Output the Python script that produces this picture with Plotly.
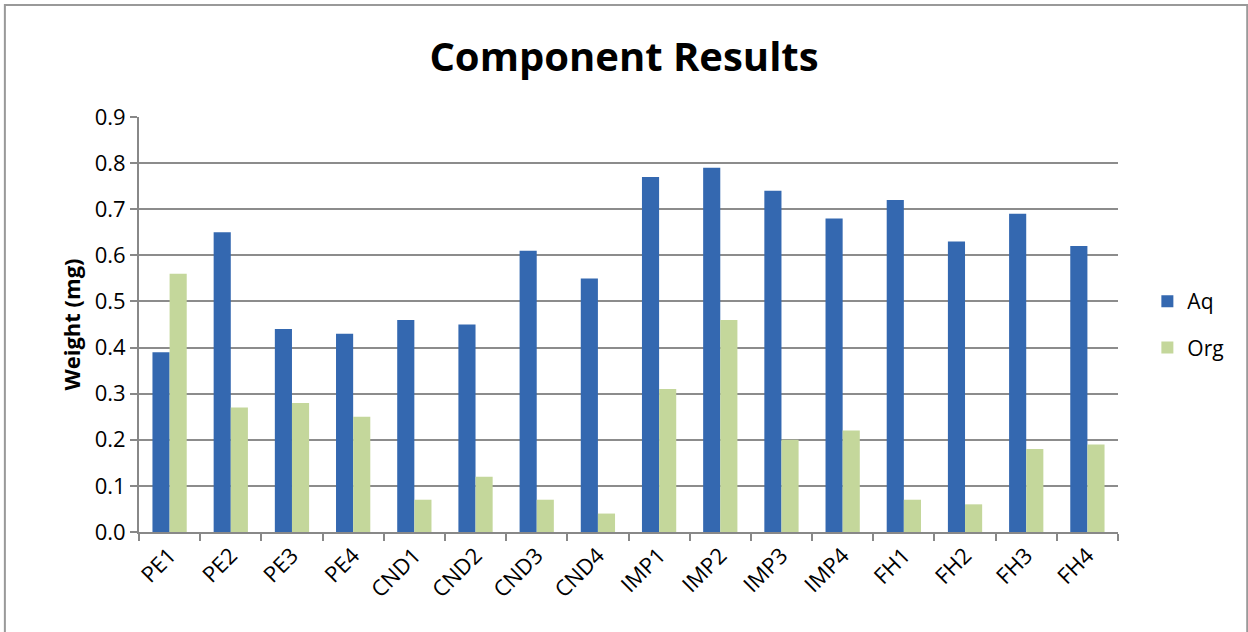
import plotly.graph_objects as go

categories = ["PE1", "PE2", "PE3", "PE4", "CND1", "CND2", "CND3", "CND4",
              "IMP1", "IMP2", "IMP3", "IMP4", "FH1", "FH2", "FH3", "FH4"]
aq_values = [0.39, 0.65, 0.44, 0.43, 0.46, 0.45, 0.61, 0.55,
             0.77, 0.79, 0.74, 0.68, 0.72, 0.63, 0.69, 0.62]
org_values = [0.56, 0.27, 0.28, 0.25, 0.07, 0.12, 0.07, 0.04,
              0.31, 0.46, 0.20, 0.22, 0.07, 0.06, 0.18, 0.19]
y_ticks = [0.0, 0.1, 0.2, 0.3, 0.4, 0.5, 0.6, 0.7, 0.8, 0.9]
y_tick_labels = ["0.0", "0.1", "0.2", "0.3", "0.4", "0.5", "0.6", "0.7", "0.8", "0.9"]

FONT = "Open Sans, Liberation Sans, sans-serif"

fig = go.Figure()
fig.add_trace(go.Bar(name="Aq", x=categories, y=aq_values,
                     marker=dict(color="#3468b0", line=dict(width=0)),
                     legendgroup="a"))
fig.add_trace(go.Bar(name="Org", x=categories, y=org_values,
                     marker=dict(color="#c4d79b", line=dict(width=0)),
                     legendgroup="b"))

fig.update_layout(
    width=1248, height=632,
    paper_bgcolor="white", plot_bgcolor="white",
    margin=dict(l=139, r=130, t=117, b=100),
    barmode="group", bargap=0.44, bargroupgap=0,
    font=dict(family=FONT, color="black"),
    title=dict(text="<b>Component Results</b>", x=0.5, xanchor="center",
               y=0.91, yanchor="middle", font=dict(size=40, family=FONT)),
    legend=dict(x=1.03, y=0.5, xanchor="left", yanchor="middle",
                bgcolor="rgba(0,0,0,0)",
                font=dict(size=21), tracegroupgap=16, traceorder="grouped"),
    xaxis=dict(type="category", showline=True, linecolor="#888888", linewidth=2,
               ticks="outside", tickson="boundaries", ticklen=7, tickcolor="#888888",
               tickwidth=2, tickangle=-45, tickfont=dict(size=22), showgrid=False),
    yaxis=dict(range=[0, 0.9], tickvals=y_ticks, ticktext=y_tick_labels,
               showline=True, linecolor="#888888", linewidth=2,
               ticks="outside", ticklen=7, tickcolor="#888888", tickwidth=2,
               showgrid=True, gridcolor="#8c8c8c", gridwidth=1.5,
               tickfont=dict(size=22), zeroline=False,
               title=dict(text="<b>Weight (mg)</b>", font=dict(size=22), standoff=8)),
    shapes=[dict(type="rect", xref="paper", yref="paper", x0=-0.137, x1=1.132, y0=-0.3, y1=1.27,
                 line=dict(color="#999999", width=2), fillcolor="rgba(0,0,0,0)")],
)

fig.write_html("out.html")
